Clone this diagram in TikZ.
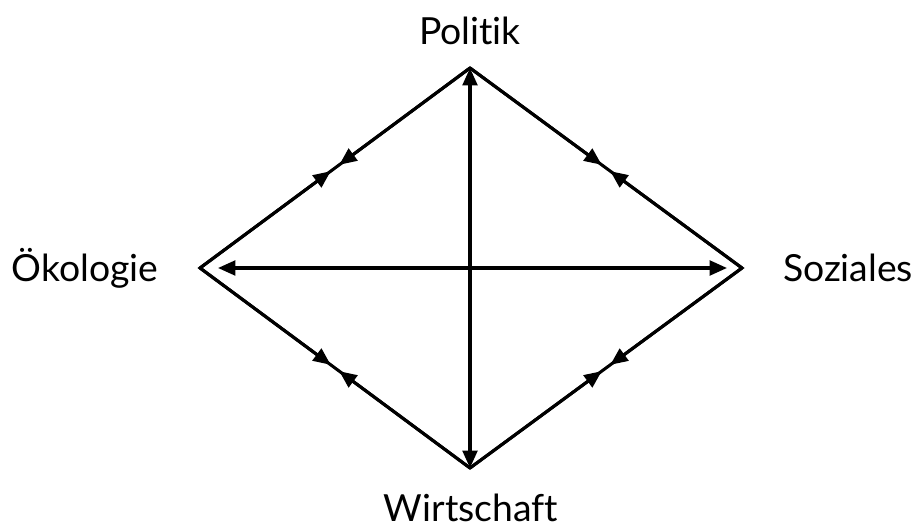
\documentclass[tikz,border=0pt]{standalone}
\usepackage{fontspec}
\setmainfont{Lato}[Ligatures={NoCommon,NoRequired,NoContextual}]
\usetikzlibrary{arrows.meta,calc}
\begin{document}
\begin{tikzpicture}[x=0.75pt,y=-0.75pt,
  edge/.style={line width=2.3pt,line join=miter},
  tip/.style={line width=2.3pt,-{Triangle[length=13pt,width=11pt]}},
  dbl/.style={line width=2.3pt,{Triangle[length=13pt,width=11pt]}-{Triangle[length=13pt,width=11pt]}},
  lbl/.style={font=\fontsize{28}{33}\selectfont,anchor=base,inner sep=0pt}]
\useasboundingbox (0,0) rectangle (916,530);
\coordinate (T) at (470,68);
\coordinate (L) at (200,268);
\coordinate (R) at (742,268);
\coordinate (B) at (470,468);
\draw[edge] (T) -- (R) -- (B) -- (L) -- cycle;
\draw[dbl] (T) -- (B);
\draw[dbl] ($(L)+(18,0)$) -- ($(R)+(-15,0)$);
\foreach \a/\b in {L/T,T/R,R/B,B/L}{
  \path let \p1=($(\a)!0.5!(\b)$) in coordinate (mid) at (\p1);
  \draw[tip] (\a) -- ($(mid)!4pt!(\a)$);
  \draw[tip] (\b) -- ($(mid)!4pt!(\b)$);
}
\node[lbl] (pol) at (470,45) {Politik};
\node[lbl] (oek) at (85,282) {Ökologie};
\node[lbl] (soz) at (848,282) {Soziales};
\node[lbl] (wir) at (471,521) {Wirtschaft};
\end{tikzpicture}
\end{document}
